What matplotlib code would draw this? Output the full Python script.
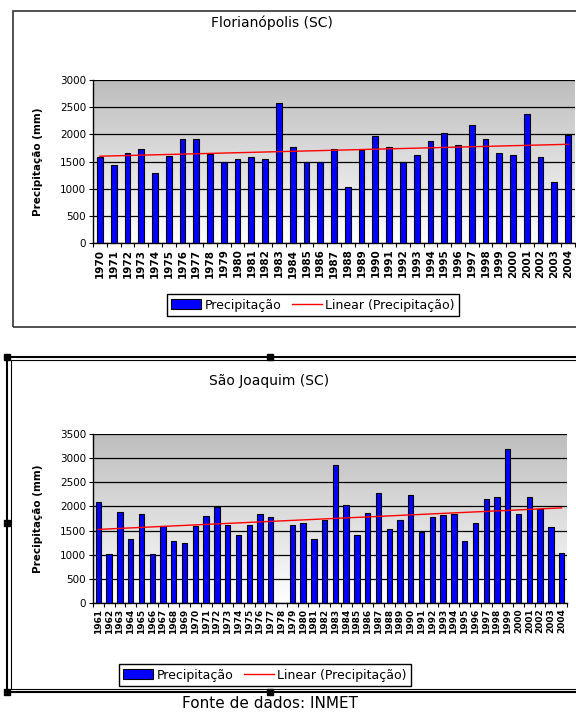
import numpy as np
import matplotlib
matplotlib.use('Agg')
import matplotlib.pyplot as plt
from matplotlib.patches import Rectangle
from matplotlib.colors import LinearSegmentedColormap

plt.rcParams['font.family'] = ['DejaVu Sans']

# Florianópolis (SC)
flo_anos = list(range(1970, 2005))
flo_prec = [1580, 1430, 1660, 1730, 1290, 1600, 1910, 1910, 1640, 1490,
            1550, 1590, 1550, 2580, 1770, 1490, 1490, 1730, 1030, 1720,
            1970, 1770, 1490, 1620, 1880, 2030, 1800, 2180, 1920, 1660,
            1620, 2370, 1590, 1130, 1980]

# São Joaquim (SC) - 1978 sem dado
sj_anos = list(range(1961, 2005))
sj_prec = [2090, 1020, 1880, 1320, 1840, 1020, 1590, 1280, 1240, 1590,
           1810, 1990, 1620, 1410, 1620, 1840, 1780, np.nan, 1620, 1650,
           1320, 1710, 2860, 2030, 1410, 1860, 2270, 1540, 1720, 2230,
           1480, 1790, 1830, 1850, 1290, 1650, 2160, 2190, 3190, 1840,
           2190, 1940, 1580, 1030]

fig = plt.figure(figsize=(5.76, 7.16), dpi=100)

cmap = LinearSegmentedColormap.from_list('fundo', ['#ffffff', '#bdbdbd'])
grad = np.linspace(0, 1, 256).reshape(-1, 1)


def desenha(ax, anos, prec, ymax, passo, largura, fs_x):
    n = len(anos)
    x = np.arange(n)
    prec = np.array(prec, dtype=float)
    ax.imshow(grad, extent=[0, 1, 0, 1], transform=ax.transAxes, origin='lower',
              aspect='auto', cmap=cmap, zorder=0)
    ax.set_xlim(-0.5, n - 0.5)
    ax.set_ylim(0, ymax)
    ax.set_yticks(np.arange(0, ymax + 1, passo))
    ax.yaxis.grid(True, color='black', linewidth=0.9)
    ax.set_axisbelow(True)
    ok = ~np.isnan(prec)
    ax.bar(x[ok], prec[ok], width=largura, color='#0000ff', edgecolor='black',
           linewidth=0.8, zorder=3, label='Precipitação')
    a, b = np.polyfit(x[ok], prec[ok], 1)
    ax.plot(x, a * x + b, color='red', linewidth=1, zorder=4,
            label='Linear (Precipitação)')
    ax.set_xticks(x)
    ax.set_xticklabels([str(v) for v in anos], rotation=90, fontsize=fs_x,
                       fontweight='bold')
    ax.set_xticks(np.arange(-0.5, n, 1), minor=True)
    ax.tick_params(axis='x', which='major', length=0, pad=4)
    ax.tick_params(axis='x', which='minor', length=3, width=0.8)
    ax.tick_params(axis='y', length=3, width=0.8, labelsize=7.5, pad=2)
    ax.set_ylabel('Precipitação (mm)', fontsize=7.5, fontweight='bold', labelpad=12)
    for s in ['top', 'right']:
        ax.spines[s].set_visible(False)
    ax.spines['left'].set_linewidth(1)
    ax.spines['bottom'].set_linewidth(1)
    return ax


ax1 = fig.add_axes([93 / 576, 1 - 243 / 716, 482 / 576, 163 / 716])
desenha(ax1, flo_anos, flo_prec, 3000, 500, 0.42, 7.5)
ax2 = fig.add_axes([93 / 576, 1 - 603 / 716, 474 / 576, 169 / 716])
desenha(ax2, sj_anos, sj_prec, 3500, 500, 0.5, 6.5)

# molduras
fig.patches.append(Rectangle((13 / 576, 1 - 327 / 716), 570 / 576, 316 / 716,
                             transform=fig.transFigure, fill=False,
                             edgecolor='#333333', linewidth=1.2))
fig.patches.append(Rectangle((7 / 576, 1 - 692 / 716), 575 / 576, 335 / 716,
                             transform=fig.transFigure, fill=False,
                             edgecolor='black', linewidth=1.5))
fig.patches.append(Rectangle((11 / 576, 1 - 689 / 716), 575 / 576, 329 / 716,
                             transform=fig.transFigure, fill=False,
                             edgecolor='black', linewidth=0.8))
for hx, hy in [(7, 357), (270, 357), (7, 523), (7, 692), (270, 692)]:
    fig.patches.append(Rectangle(((hx - 3) / 576, 1 - (hy + 3) / 716), 6 / 576, 6 / 716,
                                 transform=fig.transFigure, color='black'))

fig.text(272 / 576, 1 - 23 / 716, 'Florianópolis (SC)', ha='center', va='center',
         fontsize=10)
fig.text(269 / 576, 1 - 381 / 716, 'São Joaquim (SC)', ha='center', va='center',
         fontsize=10)


def legenda(ax, cx, cy):
    h, l = ax.get_legend_handles_labels()
    leg = fig.legend(h[::-1], l[::-1], loc='center', bbox_to_anchor=(cx / 576, 1 - cy / 716),
                     ncol=2, frameon=True, fancybox=False,
                     edgecolor='black', framealpha=1, handlelength=2.4,
                     handleheight=0.8, columnspacing=0.8, handletextpad=0.3,
                     borderpad=0.35, prop={'size': 9})
    leg.get_frame().set_linewidth(1)
    return leg


legenda(ax1, 313, 305)
legenda(ax2, 265, 675)

fig.text(270 / 576, 1 - 704 / 716, 'Fonte de dados: INMET', ha='center', va='center',
         fontsize=11)

fig.savefig('out.png', dpi=100)
